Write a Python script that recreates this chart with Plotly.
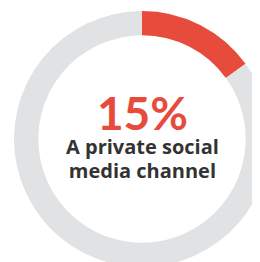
import plotly.graph_objects as go

labels = ["A private social media channel", "Other"]
values = [15, 85]
colors = ["#E64B3C", "#E1E2E4"]
big_label = "15%"
caption_lines = ["A private social", "media channel"]

OFF = 8  # page body margin
L, T = 14 - OFF, 11 - OFF
S = 256
W, H = L + S, T + S

fig = go.Figure(go.Pie(
    labels=labels, values=values, hole=0.81, sort=False,
    direction="clockwise", rotation=0,
    marker=dict(colors=colors, line=dict(width=0)),
    textinfo="none", hoverinfo="none", showlegend=False,
))

def py(y):
    return 1 - (y - 11) / S

big = f"<span style='font-family:Lato;font-size:46px;color:#E64B3C'><b>{big_label}</b></span>"
caps = [f"<span style='font-size:20px'><b>{c}</b></span>" for c in caption_lines]
fig.add_annotation(text="<br>".join([big] + caps), x=0.5, y=py(134), xref="paper", yref="paper",
                   showarrow=False, xanchor="center", yanchor="middle",
                   font=dict(family="Open Sans", size=18.5, color="#333333"))

fig.update_layout(width=W, height=H, margin=dict(l=L, t=T, r=0, b=0),
                  paper_bgcolor="white", plot_bgcolor="white")
fig.write_html("out.html")
